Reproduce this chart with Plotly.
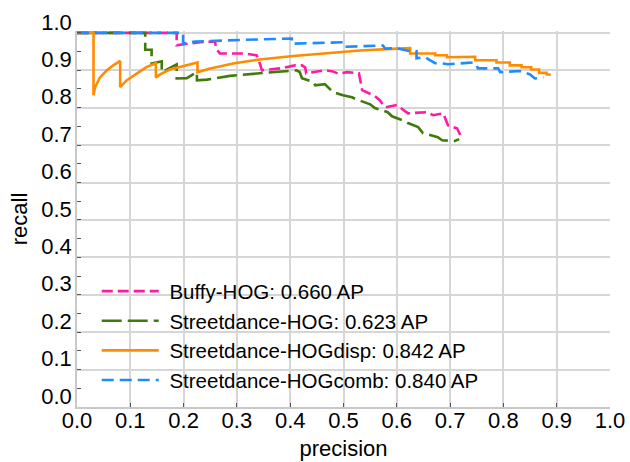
import plotly.graph_objects as go

# Precision / recall curves for the four detectors
buffy_hog_x = [0.000, 0.187, 0.187, 0.231, 0.259, 0.261, 0.268, 0.315, 0.337, 0.340, 0.347, 0.381,
               0.409, 0.422, 0.428, 0.430, 0.465, 0.480, 0.490, 0.507, 0.522, 0.529, 0.535, 0.546,
               0.559, 0.568, 0.578, 0.600, 0.612, 0.621, 0.657, 0.668, 0.687, 0.696, 0.705, 0.713, 0.719]
buffy_hog_y = [1.000, 1.000, 0.967, 0.975, 0.977, 0.958, 0.945, 0.945, 0.940, 0.932, 0.900, 0.905,
               0.913, 0.913, 0.908, 0.892, 0.900, 0.897, 0.891, 0.895, 0.893, 0.892, 0.847, 0.839,
               0.831, 0.820, 0.801, 0.807, 0.793, 0.785, 0.788, 0.780, 0.785, 0.753, 0.748, 0.745, 0.727]

sd_hog_x = [0.000, 0.128, 0.128, 0.140, 0.140, 0.159, 0.159, 0.187, 0.187, 0.206, 0.225, 0.225,
            0.244, 0.287, 0.343, 0.412, 0.418, 0.422, 0.443, 0.447, 0.465, 0.480, 0.493, 0.499,
            0.516, 0.523, 0.550, 0.559, 0.583, 0.591, 0.615, 0.621, 0.640, 0.649, 0.677, 0.685,
            0.709, 0.717]
sd_hog_y = [1.000, 1.000, 0.955, 0.955, 0.918, 0.924, 0.895, 0.916, 0.878, 0.879, 0.895, 0.873,
            0.875, 0.885, 0.892, 0.900, 0.895, 0.879, 0.869, 0.860, 0.863, 0.842, 0.836, 0.833,
            0.828, 0.823, 0.809, 0.799, 0.788, 0.777, 0.764, 0.759, 0.748, 0.732, 0.721, 0.713,
            0.711, 0.716]

sd_disp_x = [0.000, 0.031, 0.031, 0.034, 0.043, 0.056, 0.068, 0.081, 0.081, 0.093, 0.112, 0.131,
             0.148, 0.148, 0.156, 0.174, 0.193, 0.212, 0.226, 0.226, 0.250, 0.293, 0.343, 0.406,
             0.468, 0.531, 0.600, 0.625, 0.625, 0.672, 0.672, 0.694, 0.694, 0.747, 0.747, 0.787,
             0.787, 0.812, 0.812, 0.834, 0.834, 0.852, 0.852, 0.867, 0.867, 0.881, 0.881, 0.889]
sd_disp_y = [1.000, 1.000, 0.833, 0.855, 0.881, 0.900, 0.913, 0.925, 0.855, 0.873, 0.891, 0.909,
             0.919, 0.881, 0.889, 0.902, 0.909, 0.916, 0.921, 0.895, 0.905, 0.918, 0.929, 0.938,
             0.946, 0.953, 0.958, 0.959, 0.945, 0.945, 0.940, 0.940, 0.935, 0.936, 0.927, 0.927,
             0.921, 0.921, 0.913, 0.913, 0.908, 0.908, 0.902, 0.902, 0.893, 0.893, 0.889, 0.888]

sd_comb_x = [0.000, 0.199, 0.199, 0.221, 0.306, 0.403, 0.403, 0.500, 0.503, 0.574, 0.578, 0.600,
             0.621, 0.637, 0.637, 0.653, 0.662, 0.672, 0.687, 0.696, 0.743, 0.749, 0.752, 0.790,
             0.794, 0.831, 0.841, 0.850, 0.859, 0.875]
sd_comb_y = [1.000, 1.000, 0.971, 0.977, 0.981, 0.985, 0.971, 0.975, 0.963, 0.966, 0.958, 0.959,
             0.952, 0.951, 0.932, 0.935, 0.927, 0.919, 0.918, 0.916, 0.921, 0.916, 0.905, 0.905,
             0.895, 0.898, 0.893, 0.889, 0.878, 0.881]

series_names = ["Buffy-HOG: 0.660 AP", "Streetdance-HOG: 0.623 AP",
                "Streetdance-HOGdisp: 0.842 AP", "Streetdance-HOGcomb: 0.840 AP"]
series_colors = ["#ff1aa6", "#3f7a0a", "#ff8c00", "#1e8cff"]
series_dash = ["11px,5px", "20px,6px", "solid", "12px,6px"]

tick_vals = [0.0, 0.1, 0.2, 0.3, 0.4, 0.5, 0.6, 0.7, 0.8, 0.9, 1.0]
tick_text = ["0.0", "0.1", "0.2", "0.3", "0.4", "0.5", "0.6", "0.7", "0.8", "0.9", "1.0"]

FONT = "Liberation Sans, Arial, sans-serif"
NBSP = "\u00a0"

fig = go.Figure()
xs = [buffy_hog_x, sd_hog_x, sd_disp_x, sd_comb_x]
ys = [buffy_hog_y, sd_hog_y, sd_disp_y, sd_comb_y]
for i, (x, y) in enumerate(zip(xs, ys)):
    fig.add_trace(go.Scatter(
        x=x, y=y, mode="lines", name=NBSP + series_names[i], legendgroup=f"g{i}",
        line=dict(color=series_colors[i], width=2.6, dash=series_dash[i]),
    ))

axis_common = dict(
    automargin=False,
    showgrid=True, gridcolor="#d6d6d6", gridwidth=1.5,
    showline=True, linecolor="#c8c8c8", linewidth=1.5,
    zeroline=False, ticks="inside", ticklen=4, tickcolor="#555555",
    tickfont=dict(family=FONT, size=22, color="#000000"),
    tickvals=tick_vals, ticktext=tick_text,
)

fig.update_layout(
    width=630, height=462,
    margin=dict(l=77, r=20, t=30.5, b=54.5),
    paper_bgcolor="white", plot_bgcolor="white",
    font=dict(family=FONT, color="#000000"),
    showlegend=True,
    legend=dict(
        x=0.037, y=0.361, xanchor="left", yanchor="top",
        bgcolor="rgba(0,0,0,0)", borderwidth=0,
        font=dict(family=FONT, size=20.5, color="#000000"),
        tracegroupgap=0, itemwidth=57,
    ),
    xaxis=dict(range=[0, 1], ticklabelstandoff=-7,
               title=dict(text="precision", font=dict(family=FONT, size=22), standoff=8),
               **axis_common),
    yaxis=dict(range=[0, 1.005], ticklabelshift=-11, ticklabelstandoff=-1,
               minor=dict(dtick=0.05, ticks="inside", ticklen=4, tickcolor="#555555", showgrid=False),
               title=dict(text="recall", font=dict(family=FONT, size=22), standoff=8),
               **axis_common),
    annotations=[dict(text="(c)", x=0.34, y=1.0, xref="paper", yref="paper",
                      yshift=30.5 + 4, xanchor="center", yanchor="bottom", showarrow=False,
                      font=dict(family=FONT, size=24, color="#e0208c"))],
)

fig.write_html("out.html")
